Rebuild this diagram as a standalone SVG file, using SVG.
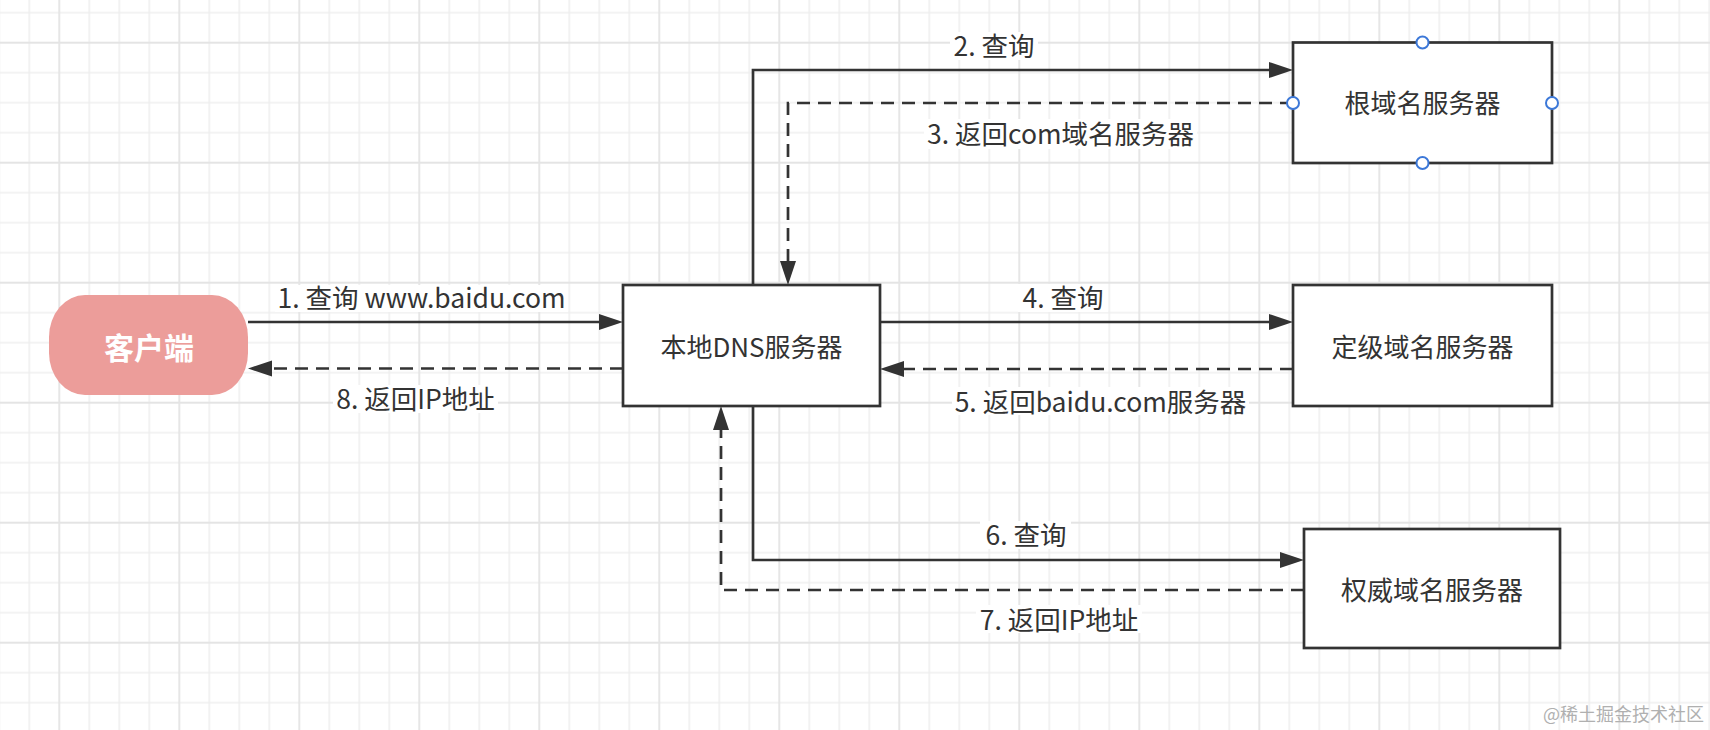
<svg xmlns="http://www.w3.org/2000/svg" width="1710" height="730" viewBox="0 0 1710 730">
<defs>
<pattern id="grid" patternUnits="userSpaceOnUse" x="44.3" y="27.7" width="120" height="120">
<path d="M45 0V120M75 0V120M105 0V120M0 45H120M0 75H120M0 105H120" stroke="#efefef" stroke-width="1.6" fill="none"/>
<path d="M15 0V120M0 15H120" stroke="#e4e4e4" stroke-width="1.8" fill="none"/>
</pattern>
<marker id="ah" markerUnits="userSpaceOnUse" markerWidth="26" markerHeight="18" refX="0" refY="8" orient="auto">
<path d="M0,0 L24,8 L0,16 z" fill="#333333"/>
</marker>
<style>
.box{fill:#ffffff;stroke:#333333;stroke-width:2.7}
.ln{fill:none;stroke:#333333;stroke-width:2.7;marker-end:url(#ah)}
.dash{stroke-dasharray:13 8}
.nt{font-family:"Noto Sans CJK SC","Noto Sans",sans-serif;font-size:26px;fill:#333333;text-anchor:middle}
.lb{font-family:"Noto Sans CJK SC","Noto Sans",sans-serif;font-size:26.5px;fill:#333333;text-anchor:middle}
.bg{fill:#ffffff}
.cp{fill:#ffffff;stroke:#3c78d8;stroke-width:2}
</style>
</defs>
<rect width="1710" height="730" fill="#ffffff"/>
<rect width="1710" height="730" fill="url(#grid)"/>

<g id="connectors">
<path class="ln" d="M248 322H599"/>
<path class="ln dash" d="M623 368.5H272"/>
<path class="ln" d="M753 285V70H1269"/>
<path class="ln dash" d="M1293 103H788V261"/>
<path class="ln" d="M880 322H1269"/>
<path class="ln dash" d="M1293 369H904"/>
<path class="ln" d="M753 406V560H1280"/>
<path class="ln dash" d="M1304 590H721V430"/>
</g>

<g id="labels">
<rect class="bg" x="275" y="285" width="293" height="27"/>
<text class="lb" x="421.5" y="307.5">1. 查询 www.baidu.com</text>
<rect class="bg" x="333" y="385" width="165" height="28"/>
<text class="lb" x="415.5" y="408.5">8. 返回IP地址</text>
<rect class="bg" x="950" y="32" width="88" height="28"/>
<text class="lb" x="994" y="55.5">2. 查询</text>
<rect class="bg" x="924" y="119" width="273" height="30"/>
<text class="lb" x="1060.5" y="143.5">3. 返回com域名服务器</text>
<rect class="bg" x="1018" y="284" width="90" height="28"/>
<text class="lb" x="1063" y="307.5">4. 查询</text>
<rect class="bg" x="952" y="387" width="297" height="28"/>
<text class="lb" x="1100.5" y="411.5">5. 返回baidu.com服务器</text>
<rect class="bg" x="980" y="521" width="91" height="28"/>
<text class="lb" x="1026" y="544.5">6. 查询</text>
<rect class="bg" x="976" y="605" width="166" height="28"/>
<text class="lb" x="1059" y="629.5">7. 返回IP地址</text>
</g>

<g id="client">
<rect x="49" y="295" width="199" height="100" rx="36" ry="42" fill="#ec9d9a"/>
<text x="149" y="358.5" font-family="'Noto Sans CJK SC','Noto Sans',sans-serif" font-size="30" font-weight="bold" fill="#ffffff" text-anchor="middle">客户端</text>
</g>

<g id="local-dns">
<rect class="box" x="623" y="285" width="257" height="121"/>
<text class="nt" x="751.5" y="357" font-size="26.5">本地DNS服务器</text>
</g>

<g id="root-dns">
<rect class="box" x="1293" y="42.5" width="259" height="120.5"/>
<text class="nt" x="1422.5" y="113">根域名服务器</text>
<circle class="cp" cx="1422.5" cy="42.5" r="6"/>
<circle class="cp" cx="1422.5" cy="163" r="6"/>
<circle class="cp" cx="1293" cy="103" r="6"/>
<circle class="cp" cx="1552" cy="103" r="6"/>
</g>

<g id="tld-dns">
<rect class="box" x="1293" y="285" width="259" height="121"/>
<text class="nt" x="1422.5" y="357">定级域名服务器</text>
</g>

<g id="auth-dns">
<rect class="box" x="1304" y="529" width="256" height="119"/>
<text class="nt" x="1432" y="600">权威域名服务器</text>
</g>

<text x="1704" y="720.5" font-family="'Noto Sans CJK SC',sans-serif" font-size="18" fill="#b0b0b0" text-anchor="end">@稀土掘金技术社区</text>
</svg>
